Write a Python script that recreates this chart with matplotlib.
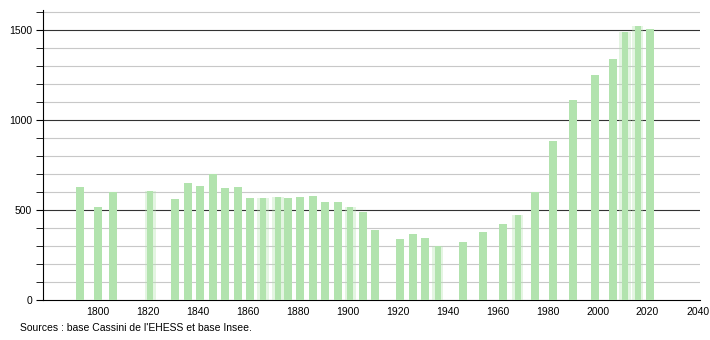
import matplotlib
matplotlib.use("Agg")
import matplotlib.pyplot as plt
from matplotlib.ticker import MultipleLocator

years = [1793, 1800, 1806, 1821, 1831, 1836, 1841, 1846, 1851, 1856, 1861, 1866,
         1872, 1876, 1881, 1886, 1891, 1896, 1901, 1906, 1911, 1921, 1926, 1931,
         1936, 1946, 1954, 1962, 1968, 1975, 1982, 1990, 1999, 2006, 2011, 2016, 2021]
population = [626, 515, 602, 606, 559, 648, 635, 700, 624, 628, 567, 567,
              570, 567, 572, 580, 544, 544, 517, 491, 389, 339, 367, 343,
              298, 322, 380, 422, 470, 600, 881, 1111, 1248, 1337, 1489, 1520, 1504]
blurred = [1821, 1866, 1872, 1901, 1936, 1968, 2011, 2016]
source_text = "Sources : base Cassini de l'EHESS et base Insee."

plt.rcParams['font.family'] = ['Liberation Sans', 'DejaVu Sans']

fig = plt.figure(figsize=(7.1, 3.4), dpi=100)
ax = fig.add_axes([43/710, 40/340, 657/710, 290/340])

bar_color = '#b2e3ae'
for y, p in zip(years, population):
    if y in blurred:
        ax.bar(y, p, width=4.6, color=bar_color, alpha=0.35, linewidth=0, zorder=3)
        ax.bar(y, p, width=2.4, color=bar_color, linewidth=0, zorder=3)
    else:
        ax.bar(y, p, width=3.2, color=bar_color, linewidth=0, zorder=3)

ax.set_xlim(1778, 2041)
ax.set_ylim(0, 1611)
ax.set_xticks(range(1800, 2041, 20))
ax.set_yticks([0, 500, 1000, 1500])
ax.yaxis.set_minor_locator(MultipleLocator(100))
for v in range(100, 1601, 100):
    if v % 500 == 0:
        ax.axhline(v, color='#333333', linewidth=0.8, zorder=1)
    else:
        ax.axhline(v, color='#c8c8c8', linewidth=0.8, zorder=1)

for s in ['top', 'right']:
    ax.spines[s].set_visible(False)
ax.spines['left'].set_color('black')
ax.spines['bottom'].set_color('black')
ax.spines['left'].set_linewidth(0.8)
ax.spines['bottom'].set_linewidth(0.8)
ax.tick_params(axis='x', length=0, labelsize=7.5, pad=5)
ax.tick_params(axis='y', which='major', length=5, labelsize=7.5, pad=3)
ax.tick_params(axis='y', which='minor', length=5)

fig.text(20/710, 1 - 328/340, source_text, fontsize=7.5, va='center', ha='left')

fig.savefig('out.png', dpi=100)
